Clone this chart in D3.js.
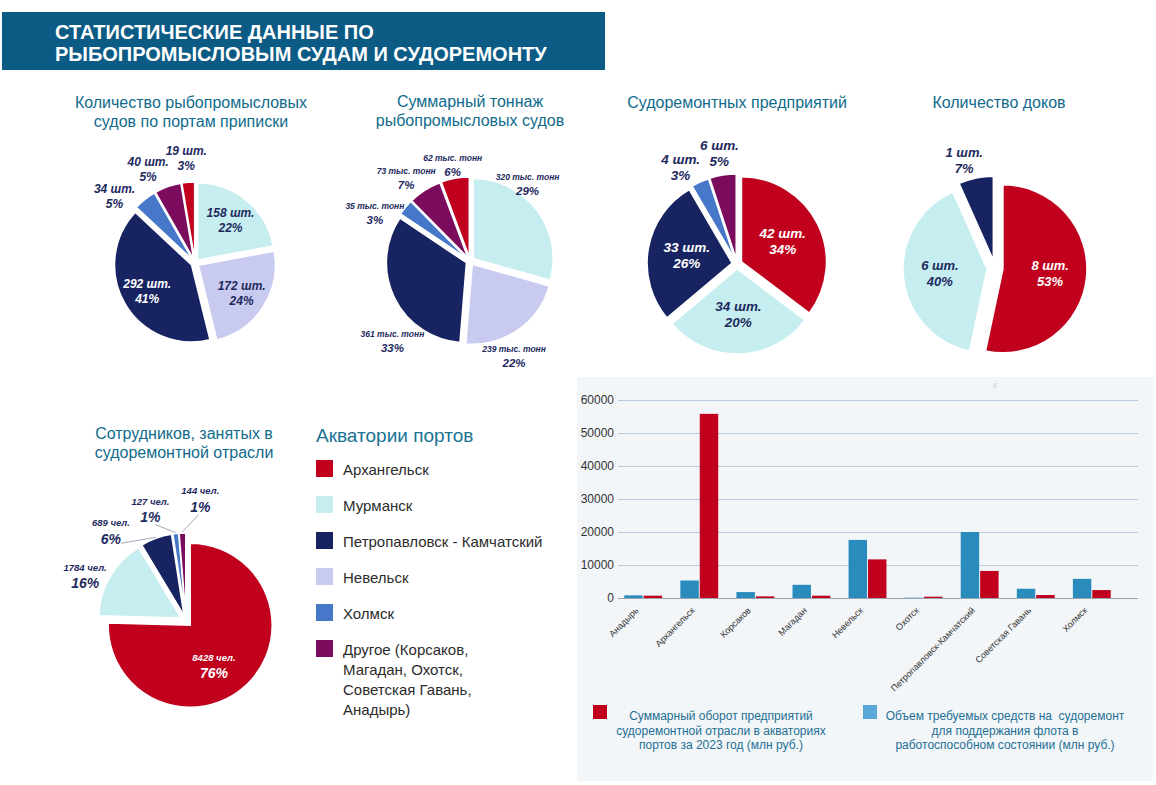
<!DOCTYPE html>
<html>
<head>
<meta charset="utf-8">
<script src="https://cdn.jsdelivr.net/npm/d3@7"></script>
<style>
  body { margin: 0; background: #fff; }
  svg { display: block; font-family: "Liberation Sans", Arial, sans-serif; }
</style>
</head>
<body>
<svg id="chart"></svg>
<script>
// ---- data ----
const vesselsPorts = ["Мурманск", "Невельск", "Петропавловск", "Холмск", "Другое", "Архангельск"];
const vesselsCount = [158, 172, 292, 34, 40, 19];
const vesselsPct = ["22%", "24%", "41%", "5%", "5%", "3%"];

const tonnagePorts = ["Мурманск", "Невельск", "Петропавловск", "Холмск", "Другое", "Архангельск"];
const tonnageValue = [320, 239, 361, 35, 73, 62];
const tonnagePct = ["29%", "22%", "33%", "3%", "7%", "6%"];

const repairPorts = ["Архангельск", "Мурманск", "Петропавловск", "Холмск", "Другое"];
const repairCount = [42, 34, 33, 4, 6];
const repairPct = ["34%", "20%", "26%", "3%", "5%"];

const docksPorts = ["Архангельск", "Мурманск", "Петропавловск"];
const docksCount = [8, 6, 1];
const docksPct = ["53%", "40%", "7%"];

const staffPorts = ["Архангельск", "Мурманск", "Петропавловск", "Холмск", "Другое"];
const staffCount = [8428, 1784, 689, 127, 144];
const staffPct = ["76%", "16%", "6%", "1%", "1%"];

const legendKeys = ["Архангельск", "Мурманск", "Петропавловск", "Невельск", "Холмск", "Другое"];
const legendLabels = [
  ["Архангельск"],
  ["Мурманск"],
  ["Петропавловск - Камчатский"],
  ["Невельск"],
  ["Холмск"],
  ["Другое (Корсаков,", "Магадан, Охотск,", "Советская Гавань,", "Анадырь)"]
];

const barCategories = ["Анадырь", "Архангельск", "Корсаков", "Магадан", "Невельск", "Охотск",
  "Петропавловск-Камчатский", "Советская Гавань", "Холмск"];
const fundsNeeded = [800, 5300, 1800, 4000, 17600, 100, 20000, 2800, 5800];
const turnover2023 = [700, 55800, 500, 700, 11700, 400, 8200, 900, 2400];
const yTicks = [0, 10000, 20000, 30000, 40000, 50000, 60000];

// ---- colours ----
const portColor = {
  "Архангельск": "#c0001c",
  "Мурманск": "#c6eef0",
  "Петропавловск": "#172461",
  "Невельск": "#c9caf0",
  "Холмск": "#4677c8",
  "Другое": "#7b0b5c"
};
const darkPorts = ["Архангельск", "Петропавловск", "Холмск", "Другое"];
const titleColor = "#0f6b8c";
const labelColor = "#1e2a5e";

const svg = d3.select("#chart").attr("width", 1156).attr("height", 785);

// banner
svg.append("rect").attr("x", 2).attr("y", 12).attr("width", 603).attr("height", 58).attr("fill", "#0c5b85");
svg.append("text").attr("x", 55).attr("y", 39).attr("fill", "#fff")
  .attr("font-size", 20).attr("font-weight", "bold").text("СТАТИСТИЧЕСКИЕ ДАННЫЕ ПО");
svg.append("text").attr("x", 55).attr("y", 61).attr("fill", "#fff")
  .attr("font-size", 20).attr("font-weight", "bold").text("РЫБОПРОМЫСЛОВЫМ СУДАМ И СУДОРЕМОНТУ");

// ---- pies ----
const pies = [
  { title: ["Количество рыбопромысловых", "судов по портам приписки"], tx: 191, ty: 108,
    keys: vesselsPorts, values: vesselsCount, pct: vesselsPct, unit: " шт.",
    cx: 195, cy: 263, r: 77, e: 4, insideMin: 0.1, ki: 0.72, ko: 1.36,
    shift: [0, 0, 0, -12, -7, 0], f1: 12, f2: 12, gap: 15 },
  { title: ["Суммарный тоннаж", "рыбопромысловых судов"], tx: 470, ty: 107,
    keys: tonnagePorts, values: tonnageValue, pct: tonnagePct, unit: " тыс. тонн",
    cx: 470, cy: 261, r: 80, e: 4, insideMin: 1.1, ki: 0.7, ko: [1.2, 1.31, 1.39, 1.33, 1.31, 1.22],
    shift: [-16, 10, -20, -13, -5, 0], f1: 8.5, f2: 11.5, gap: 14 },
  { title: ["Судоремонтных предприятий"], tx: 737, ty: 108,
    keys: repairPorts, values: repairCount, pct: repairPct, unit: " шт.",
    cx: 737, cy: 264, r: 85, e: 5, insideMin: 0.1, ki: 0.6, ko: 1.32,
    shift: [0, 0, 0, -6, 0], f1: 13.5, f2: 13.5, gap: 16 },
  { title: ["Количество доков"], tx: 999, ty: 108,
    keys: docksPorts, values: docksCount, pct: docksPct, unit: " шт.",
    cx: 995, cy: 268, r: 84, e: 8, insideMin: 0.1, ki: 0.66, ko: 1.33,
    shift: [0, 0, -4], f1: 13, f2: 13, gap: 16 },
  { title: ["Сотрудников, занятых в", "судоремонтной отрасли"], tx: 184, ty: 439,
    keys: staffPorts, values: staffCount, pct: staffPct, unit: " чел.",
    cx: 186, cy: 621, r: 82, e: 6, insideMin: 0.5, ki: 0.64, ko: [1, 1.35, 1.43, 1.43, 1.5],
    shift: [12, -6, -20, -11, 9], f1: 9.5, f2: 14, gap: 16, leaders: true }
];

const pieGen = d3.pie().sort(null).value(d => d.v);

pies.forEach(p => {
  // title
  p.title.forEach((t, i) => {
    svg.append("text").attr("x", p.tx).attr("y", p.ty + i * 19)
      .attr("text-anchor", "middle").attr("font-size", 16).attr("fill", titleColor).text(t);
  });

  const data = p.keys.map((k, i) => ({ k, v: p.values[i], pct: p.pct[i], i }));
  const total = d3.sum(data, d => d.v);
  const arcs = pieGen(data);
  const arc = d3.arc().innerRadius(0).outerRadius(p.r);
  const g = svg.append("g").attr("transform", `translate(${p.cx},${p.cy})`);

  g.selectAll("path.slice").data(arcs).join("path")
    .attr("class", "slice")
    .attr("d", arc)
    .attr("fill", d => portColor[d.data.k])
    .attr("stroke", "#fff").attr("stroke-width", 1.5)
    .attr("transform", d => {
      const m = (d.startAngle + d.endAngle) / 2;
      return `translate(${Math.sin(m) * p.e},${-Math.cos(m) * p.e})`;
    });

  arcs.forEach(d => {
    const share = d.data.v / total;
    const mid = (d.startAngle + d.endAngle) / 2;
    const inside = share >= p.insideMin;
    const a = mid + (p.shift[d.data.i] || 0) * Math.PI / 180;
    const rr = inside ? p.r * p.ki : p.r * (Array.isArray(p.ko) ? p.ko[d.data.i] : p.ko);
    const x = Math.sin(a) * rr, y = -Math.cos(a) * rr;
    const col = inside && darkPorts.includes(d.data.k) ? "#fff" : labelColor;

    // leader lines for the thin slices
    if (p.leaders && !inside && share < 0.1) {
      const r1 = p.r + p.e + 1, r2 = rr - 16;
      g.append("line")
        .attr("x1", Math.sin(mid) * r1).attr("y1", -Math.cos(mid) * r1)
        .attr("x2", Math.sin(a) * r2).attr("y2", -Math.cos(a) * r2)
        .attr("stroke", "#8a8fa8").attr("stroke-width", 0.8);
    }

    const t = g.append("g").attr("fill", col).attr("font-weight", "bold")
      .attr("font-style", "italic").attr("text-anchor", "middle");
    t.append("text").attr("x", x).attr("y", y - p.gap / 2)
      .attr("dominant-baseline", "central").attr("font-size", p.f1)
      .text(d3.format("d")(d.data.v) + p.unit);
    t.append("text").attr("x", x).attr("y", y + p.gap / 2)
      .attr("dominant-baseline", "central").attr("font-size", p.f2)
      .text(d.data.pct);
  });
});

// ---- legend of ports ----
svg.append("text").attr("x", 316).attr("y", 442).attr("font-size", 19)
  .attr("fill", "#1a7395").text("Акватории портов");
const lg = svg.append("g");
legendKeys.forEach((k, i) => {
  const top = 460 + i * 36;
  lg.append("rect").attr("x", 316).attr("y", top).attr("width", 17).attr("height", 17)
    .attr("fill", portColor[k]);
  legendLabels[i].forEach((line, j) => {
    lg.append("text").attr("x", 343).attr("y", top + 15 + j * 20)
      .attr("font-size", 15).attr("fill", "#2b2b2b").text(line);
  });
});

// ---- bar chart ----
svg.append("rect").attr("x", 577).attr("y", 377).attr("width", 576).attr("height", 404)
  .attr("fill", "#f2f6f9");
svg.append("text").attr("x", 995).attr("y", 388).attr("font-size", 7)
  .attr("fill", "#c8cdd2").attr("text-anchor", "middle").text("6");

const y = d3.scaleLinear().domain([0, 60000]).range([598, 400]);
const x0 = d3.scaleBand().domain(barCategories).range([616, 1119])
  .paddingInner(0.29).paddingOuter(0.13);
const x1 = d3.scaleBand().domain(["funds", "turnover"]).range([0, x0.bandwidth()]).padding(0.05);
const barColor = { funds: "#2a8bbd", turnover: "#c0001c" };

const yAxis = svg.append("g").attr("transform", "translate(618,0)")
  .call(d3.axisLeft(y).tickValues(yTicks).tickSize(-520).tickPadding(4).tickFormat(d3.format("d")));
yAxis.select(".domain").remove();
yAxis.selectAll(".tick line").attr("stroke", d => d === 0 ? "#9aa3ad" : "#b9cde0");
yAxis.selectAll(".tick text").attr("font-size", 12).attr("fill", "#333")
  .attr("font-family", "Liberation Sans, Arial, sans-serif");

const barData = barCategories.map((c, i) => ({ c, funds: fundsNeeded[i], turnover: turnover2023[i] }));
const grp = svg.append("g").selectAll("g").data(barData).join("g")
  .attr("transform", d => `translate(${x0(d.c)},0)`);
grp.selectAll("rect").data(d => ["funds", "turnover"].map(s => ({ s, v: d[s] }))).join("rect")
  .attr("x", d => x1(d.s))
  .attr("width", x1.bandwidth())
  .attr("y", d => y(d.v))
  .attr("height", d => y(0) - y(d.v))
  .attr("fill", d => barColor[d.s]);

svg.append("g").selectAll("text").data(barCategories).join("text")
  .attr("transform", d => `translate(${x0(d) + x0.bandwidth() / 2 - 4},611) rotate(-45)`)
  .attr("text-anchor", "end").attr("font-size", 9).attr("fill", "#333")
  .text(d => d);

// bar legend
const barLegend = [
  { color: "#c0001c", x: 593, cx: 721,
    lines: ["Суммарный оборот предприятий", "судоремонтной отрасли в акваториях", "портов за 2023 год (млн руб.)"] },
  { color: "#5aa6d6", x: 863, cx: 1005,
    lines: ["Объем требуемых средств на  судоремонт", "для поддержания флота в", "работоспособном состоянии (млн руб.)"] }
];
barLegend.forEach(l => {
  svg.append("rect").attr("x", l.x).attr("y", 705).attr("width", 14).attr("height", 14).attr("fill", l.color);
  l.lines.forEach((t, j) => {
    svg.append("text").attr("x", l.cx).attr("y", 720 + j * 14.5).attr("text-anchor", "middle")
      .attr("font-size", 12).attr("fill", "#1f6f93").attr("xml:space", "preserve").text(t);
  });
});
</script>
</body>
</html>
